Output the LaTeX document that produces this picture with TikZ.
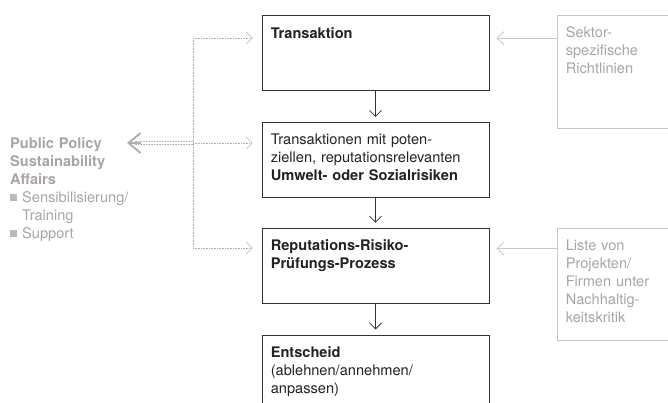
\documentclass[tikz,border=0pt]{standalone}
\usepackage{fontspec}
\setmainfont{TeX Gyre Heros}
\usetikzlibrary{arrows.meta,positioning}
\definecolor{boxline}{HTML}{333333}
\definecolor{maintext}{HTML}{222222}
\definecolor{softtext}{HTML}{ABA4A0}
\definecolor{softline}{HTML}{CBC6C2}
\definecolor{dotline}{HTML}{B5B0AC}
\definecolor{bulletgray}{HTML}{BDB8B4}
\newcommand{\sqbullet}{{\color{bulletgray}\raisebox{1pt}{\rule{7pt}{7pt}}}\hspace{5pt}}
\tikzset{
  box/.style={draw=boxline, line width=0.8pt, minimum width=227pt, minimum height=75pt, inner sep=0pt},
  sidebox/.style={draw=softline, line width=0.8pt, minimum width=143pt, inner sep=0pt},
  boxtext/.style={anchor=north west, inner sep=0pt, text width=215pt, align=left,
    font=\fontsize{14.6}{18}\selectfont, text=maintext},
  sidetext/.style={boxtext, text=softtext, text width=100pt},
  flow/.style={draw=boxline, line width=0.8pt, -{Straight Barb[length=6pt,width=12pt]}},
  feed/.style={draw=softline, line width=0.8pt, -{Straight Barb[length=7pt,width=13pt]}},
  hint/.style={draw=dotline, line width=0.6pt, densely dotted},
}
\begin{document}
\begin{tikzpicture}[x=1pt,y=1pt]
  \clip (0,0) rectangle (668,402);
  % main chain
  \node[box] (trans) at (375.5,349) {};
  \node[box, below=31pt of trans] (risk) {};
  \node[box, below=30pt of risk] (check) {};
  \node[box, below=31pt of check] (decide) {};
  \node[boxtext] (transT) at ([xshift=9pt,yshift=-12pt]trans.north west) {\textbf{Transaktion}};
  \node[boxtext] (riskT) at ([xshift=9pt,yshift=-12pt]risk.north west)
    {Transaktionen mit poten-\\ziellen, reputationsrelevanten\\\textbf{Umwelt- oder Sozialrisiken}};
  \node[boxtext] (checkT) at ([xshift=9pt,yshift=-12pt]check.north west)
    {\textbf{Reputations-Risiko-}\\\textbf{Prüfungs-Prozess}};
  \node[boxtext] (decideT) at ([xshift=9pt,yshift=-12pt]decide.north west)
    {\textbf{Entscheid}\\(ablehnen/annehmen/\\anpassen)};
  % side sources
  \node[sidebox, minimum height=113pt] (sector) at (628.5,330.5) {};
  \node[sidebox, minimum height=112pt] (lists) at (628.5,118) {};
  \node[sidetext] (sectorT) at ([xshift=9pt,yshift=-12pt]sector.north west)
    {Sektor-\\spezifische\\Richtlinien};
  \node[sidetext] (listsT) at ([xshift=9pt,yshift=-12pt]lists.north west)
    {Liste von\\Projekten/\\Firmen unter\\Nachhaltig-\\keitskritik};
  % public policy
  \node[sidetext, text width=150pt] (policy) at (10,265)
    {\textbf{Public Policy}\\\textbf{Sustainability}\\\textbf{Affairs}\\
     \sqbullet Sensibilisierung/\\\hspace*{12pt}Training\\
     \sqbullet Support};
  \coordinate (hub) at (193,259);
  \coordinate (hubtop) at (193,364);
  \coordinate (hubbot) at (193,154);
  % connectors
  \draw[flow] (trans) -- ([yshift=5pt]risk.north);
  \draw[flow] (risk) -- ([yshift=5pt]check.north);
  \draw[flow] (check) -- ([yshift=5pt]decide.north);
  \draw[feed] (sector.west |- trans.north west) ++(0,-23) coordinate (sectorA) -- ([xshift=7pt]trans.east |- sectorA);
  \draw[feed] (lists.west |- check.north west) ++(0,-21) coordinate (listsA) -- ([xshift=7pt]check.east |- listsA);
  \draw[hint] (hubtop) -- (hubbot);
  \draw[hint, -{Straight Barb[length=6pt,width=12pt]}] (hubtop) -- ([xshift=-9pt]trans.west |- hubtop);
  \draw[hint, -{Straight Barb[length=6pt,width=12pt]}] (hub) -- ([xshift=-9pt]risk.west |- hub);
  \draw[hint, -{Straight Barb[length=6pt,width=12pt]}] (hubbot) -- ([xshift=-9pt]check.west |- hubbot);
  \coordinate (policyA) at (127,259);
  \draw[hint] ([yshift=1.2pt]hub) -- ([xshift=8pt,yshift=1.2pt]policyA);
  \draw[hint] ([yshift=-1.2pt]hub) -- ([xshift=8pt,yshift=-1.2pt]policyA);
  \draw[draw=dotline, line width=2pt, -{Straight Barb[length=12pt,width=20pt]}] ([xshift=14pt]policyA) -- (policyA);
\end{tikzpicture}
\end{document}
